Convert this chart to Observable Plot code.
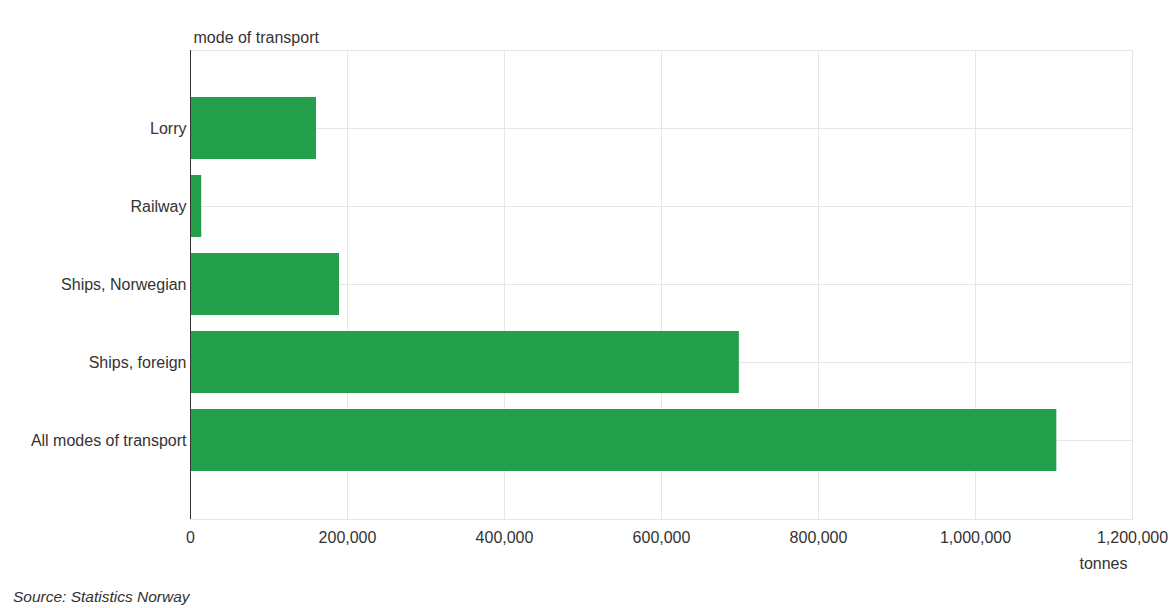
<!DOCTYPE html>
<html><head><meta charset="utf-8">
<script src="https://cdn.jsdelivr.net/npm/d3@7"></script>
<script src="https://cdn.jsdelivr.net/npm/@observablehq/plot@0.6"></script>
<style>
body{margin:0;background:#fff;font-family:"Liberation Sans",Arial,sans-serif;}
#chart{position:relative;width:1175px;height:608px;}
#chart svg{position:absolute;left:0;top:0;}
#source{position:absolute;left:13px;top:588px;font-size:15.5px;font-style:italic;color:#333;line-height:18px;}
</style></head><body>
<div id="chart"><div id="source">Source: Statistics Norway</div></div>
<script>
const categories = ["Lorry", "Railway", "Ships, Norwegian", "Ships, foreign", "All modes of transport"];
const tonnes = [160500, 14300, 189800, 699200, 1103600];
const xTicks = [0, 200000, 400000, 600000, 800000, 1000000, 1200000];
const yLabel = "mode of transport";
const xLabel = "tonnes";

const data = categories.map((c, i) => ({mode: c, tonnes: tonnes[i]}));
const grid = "#e6e6e6";

const plot = Plot.plot({
  width: 1175,
  height: 582,
  marginLeft: 190,
  marginRight: 43,
  marginTop: 50,
  marginBottom: 63,
  style: {fontFamily: "'Liberation Sans', Arial, sans-serif", fontSize: "16px", color: "#333", background: "transparent"},
  x: {domain: [0, 1200000]},
  y: {domain: categories, paddingInner: 0.2, paddingOuter: 0.6},
  marks: [
    Plot.frame({stroke: grid}),
    Plot.ruleX(xTicks, {stroke: grid}),
    Plot.ruleY(categories, {stroke: grid}),
    Plot.barX(data, {x: "tonnes", y: "mode", fill: "#249f4c"}),
    Plot.ruleX([0], {stroke: "#333"}),
    Plot.axisX({ticks: xTicks, tickFormat: d3.format(","), tickSize: 0, tickPadding: 12, label: null, fontSize: 16}),
    Plot.axisY({tickSize: 0, tickPadding: 4, label: null, fontSize: 16}),
    Plot.text([xLabel], {frameAnchor: "bottom-right", textAnchor: "end", lineAnchor: "middle", dx: -5, dy: 44, fontSize: 16, fill: "#333"}),
    Plot.text([yLabel], {frameAnchor: "top-left", textAnchor: "start", lineAnchor: "middle", dx: 3, dy: -13, fontSize: 16, fill: "#333"})
  ]
});
document.getElementById("chart").prepend(plot);
</script>
</body></html>
